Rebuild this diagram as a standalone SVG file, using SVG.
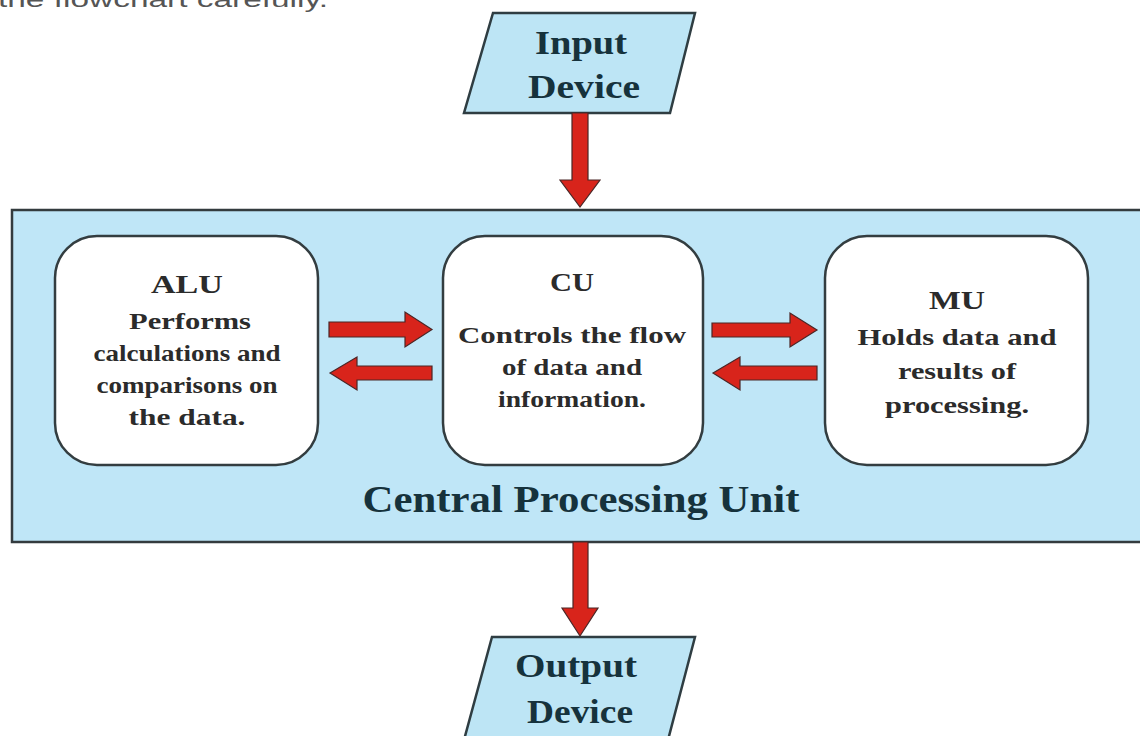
<svg xmlns="http://www.w3.org/2000/svg" width="1140" height="736" viewBox="0 0 1140 736">
<style>
.io{fill:#bde5f5;stroke:#2f3d42;stroke-width:2.5}
.cpu{fill:#bfe6f7;stroke:#333b3e;stroke-width:2.5}
.box{fill:#ffffff;stroke:#333d40;stroke-width:2.5}
.arr{fill:#d8241b;stroke:#4a2626;stroke-width:1.2;stroke-linejoin:miter}
.big{font-family:"Liberation Serif","Times New Roman",serif;font-weight:bold;fill:#16323c;text-anchor:middle}
.t{font-family:"Liberation Serif","Times New Roman",serif;font-weight:bold;fill:#2b2b2b;text-anchor:middle}
.ttl{font-size:26px}
.body{font-size:23px}
.top{font-family:"Liberation Sans",Arial,sans-serif;font-size:22px;fill:#555}
</style>
<rect width="1140" height="736" fill="#ffffff"/>
<text class="top" x="-2" y="7" textLength="330" lengthAdjust="spacingAndGlyphs">the flowchart carefully.</text>

<g id="cpu">
<rect class="cpu" x="12" y="210" width="1140" height="332"/>
<text class="big" x="581" y="512" font-size="37" textLength="437" lengthAdjust="spacingAndGlyphs">Central Processing Unit</text>
</g>

<g id="input">
<polygon class="io" points="493,13 695,13 670,113 464,113"/>
<text class="big" x="581" y="54" font-size="34" textLength="92" lengthAdjust="spacingAndGlyphs">Input</text>
<text class="big" x="584" y="98" font-size="34" textLength="112" lengthAdjust="spacingAndGlyphs">Device</text>
</g>

<g id="output">
<polygon class="io" points="492,637 695,637 668,740 464,740"/>
<text class="big" x="576" y="677" font-size="34" textLength="122" lengthAdjust="spacingAndGlyphs">Output</text>
<text class="big" x="580" y="723" font-size="34" textLength="106" lengthAdjust="spacingAndGlyphs">Device</text>
</g>

<g id="alu">
<rect class="box" x="55" y="236" width="263" height="229" rx="42"/>
<text class="t ttl" x="187" y="293" textLength="72" lengthAdjust="spacingAndGlyphs">ALU</text>
<text class="t body" x="190" y="329" textLength="122" lengthAdjust="spacingAndGlyphs">Performs</text>
<text class="t body" x="187" y="361" textLength="187" lengthAdjust="spacingAndGlyphs">calculations and</text>
<text class="t body" x="187" y="393" textLength="181" lengthAdjust="spacingAndGlyphs">comparisons on</text>
<text class="t body" x="187" y="425" textLength="117" lengthAdjust="spacingAndGlyphs">the data.</text>
</g>

<g id="cu">
<rect class="box" x="443" y="236" width="260" height="229" rx="42"/>
<text class="t ttl" x="572" y="291" textLength="44" lengthAdjust="spacingAndGlyphs">CU</text>
<text class="t body" x="572" y="343" textLength="228" lengthAdjust="spacingAndGlyphs">Controls the flow</text>
<text class="t body" x="572" y="375" textLength="140" lengthAdjust="spacingAndGlyphs">of data and</text>
<text class="t body" x="572" y="407" textLength="148" lengthAdjust="spacingAndGlyphs">information.</text>
</g>

<g id="mu">
<rect class="box" x="825" y="236" width="263" height="229" rx="42"/>
<text class="t ttl" x="957" y="309" textLength="56" lengthAdjust="spacingAndGlyphs">MU</text>
<text class="t body" x="957" y="345" textLength="199" lengthAdjust="spacingAndGlyphs">Holds data and</text>
<text class="t body" x="957" y="379" textLength="118" lengthAdjust="spacingAndGlyphs">results of</text>
<text class="t body" x="957" y="413" textLength="144" lengthAdjust="spacingAndGlyphs">processing.</text>
</g>

<g id="connectors">
<polygon class="arr" points="572,113 588,113 588,180 600,180 580,207 560,180 572,180"/>
<polygon class="arr" points="573,542 588,542 588,608 598,608 580,636 562,608 573,608"/>
<polygon class="arr" points="329,322 405,322 405,312 432,329.5 405,347 405,337 329,337"/>
<polygon class="arr" points="432,366 357,366 357,357 330,373 357,390 357,380 432,380"/>
<polygon class="arr" points="712,323 790,323 790,313 817,330 790,347 790,337 712,337"/>
<polygon class="arr" points="817,366 740,366 740,357 713,373 740,390 740,380 817,380"/>
</g>
</svg>
